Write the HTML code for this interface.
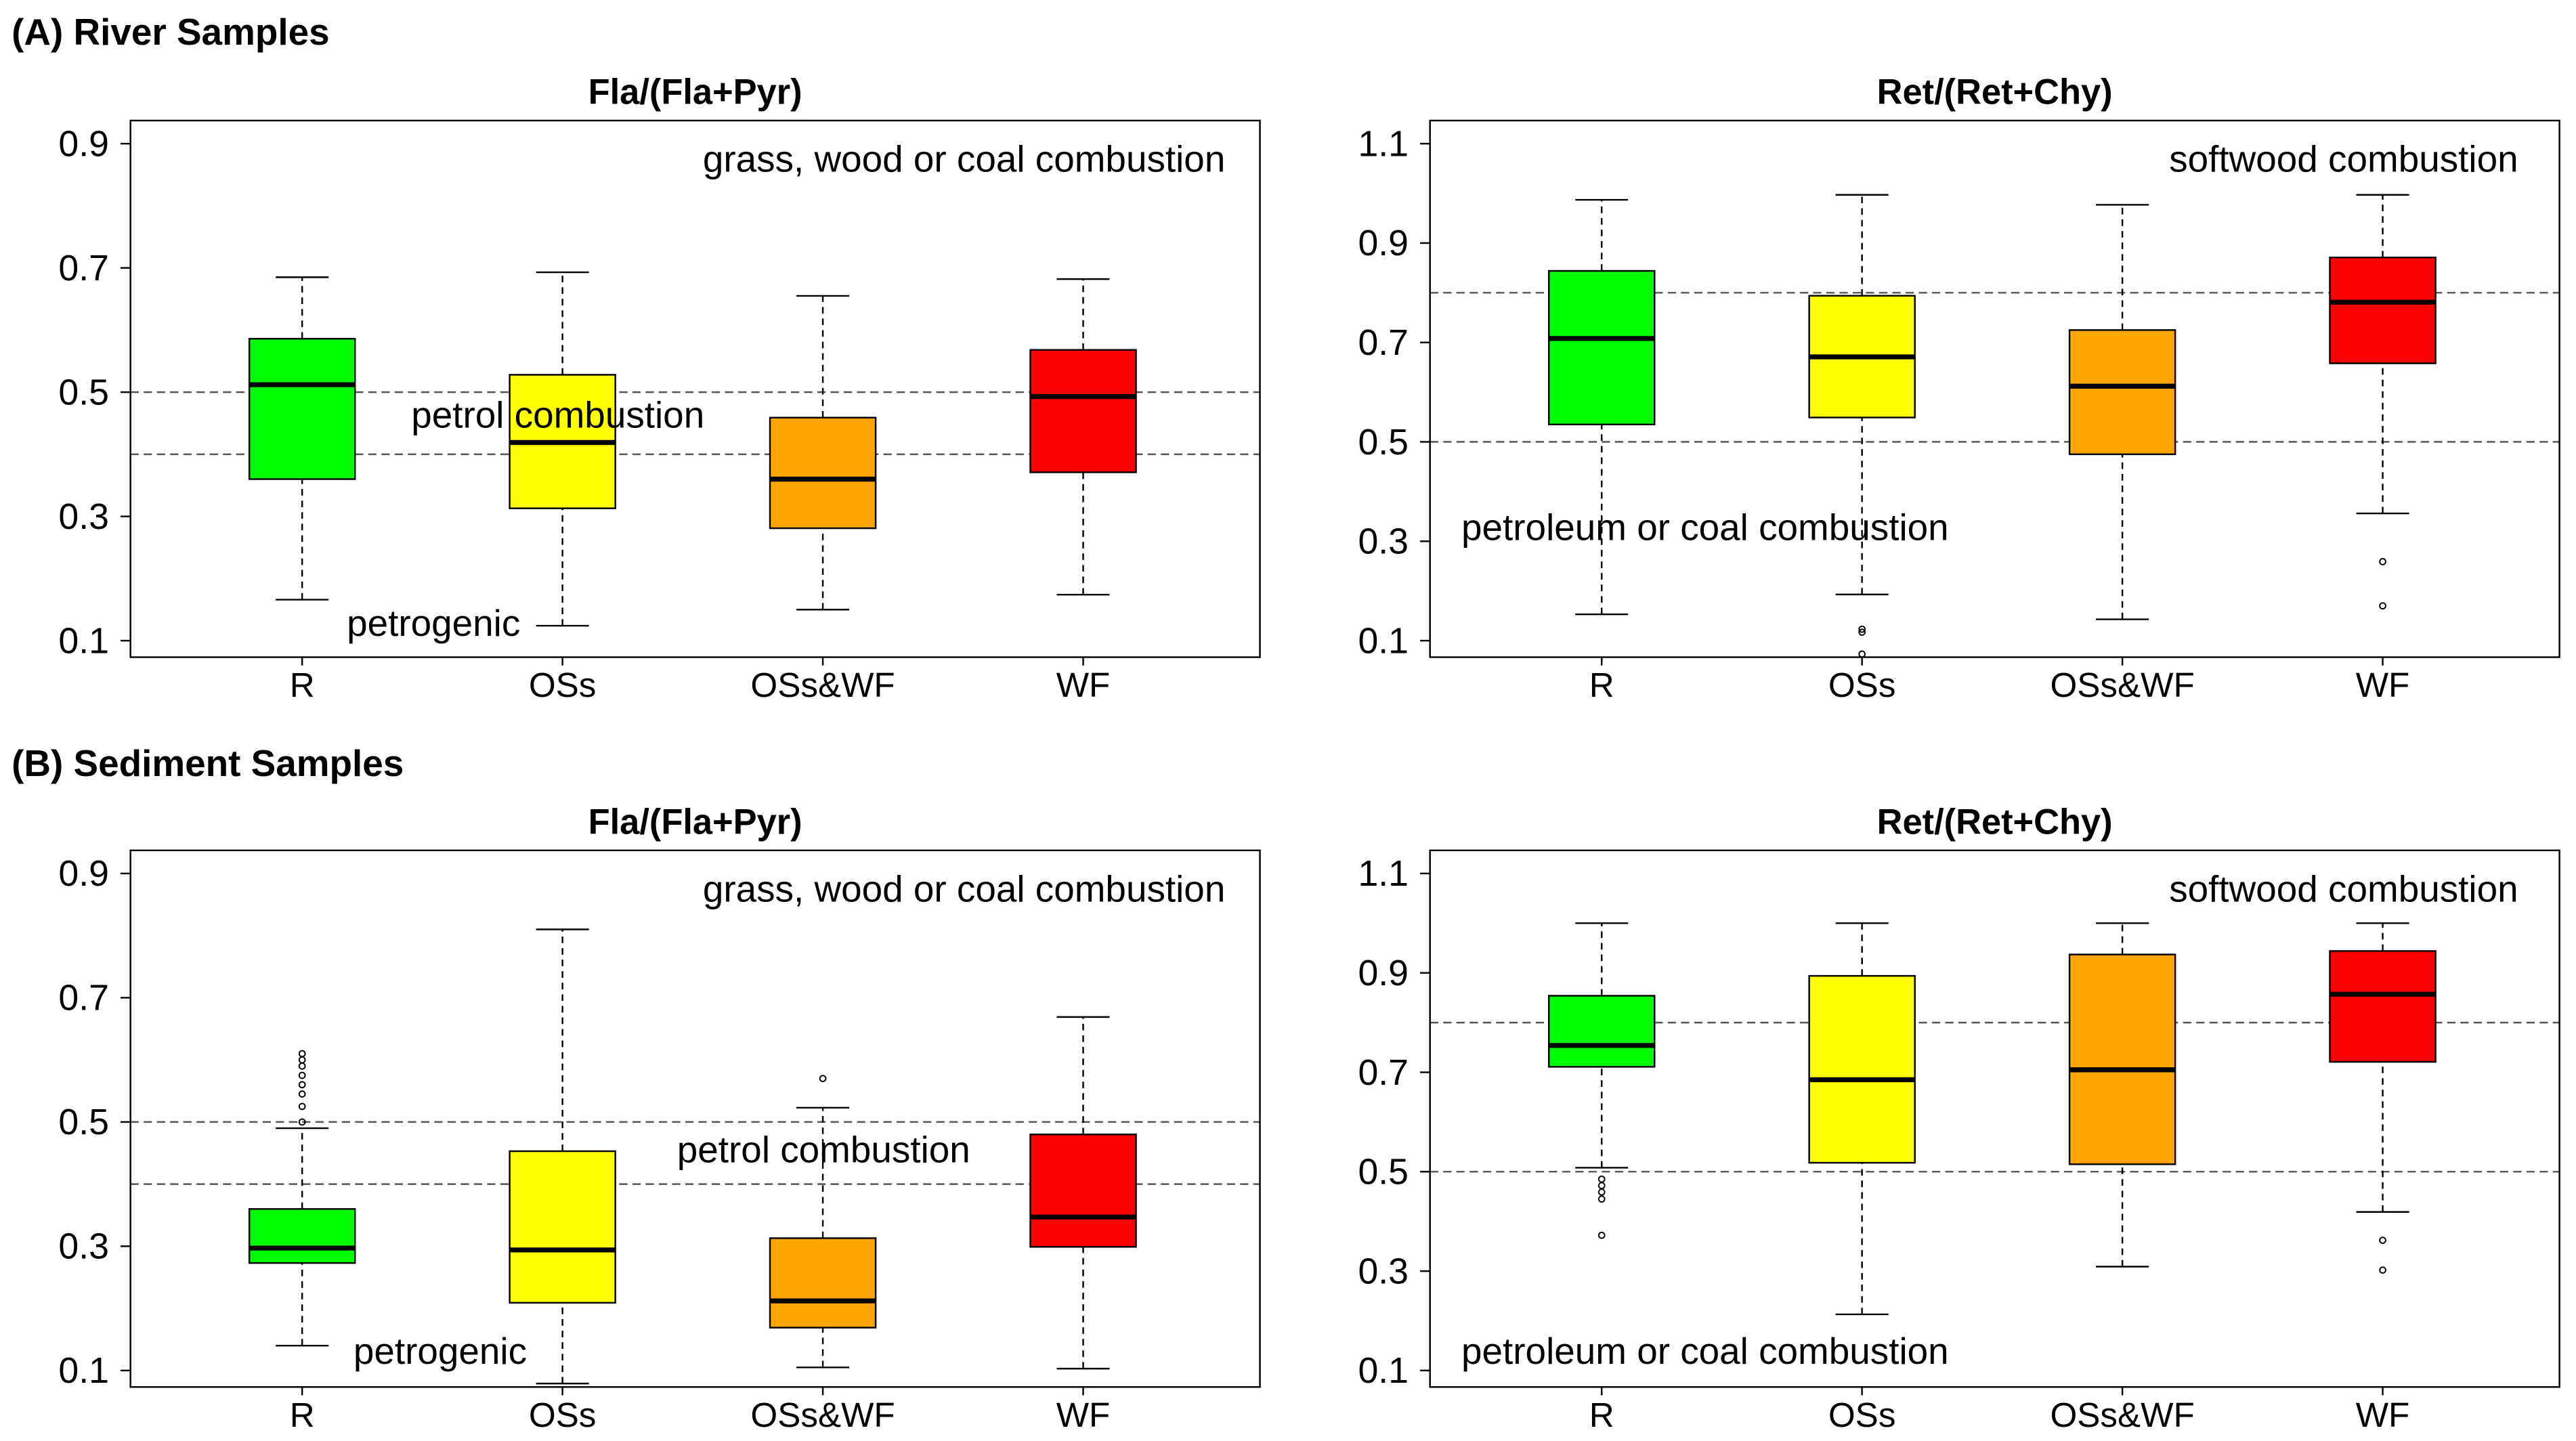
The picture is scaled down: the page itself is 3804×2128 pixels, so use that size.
<!DOCTYPE html>
<html><head><meta charset="utf-8"><style>html,body{margin:0;padding:0;background:#fff}svg{display:block}</style></head>
<body>
<svg id="fig" xmlns="http://www.w3.org/2000/svg" width="3804" height="2128" viewBox="0 0 1560 872.7" font-family="Liberation Sans, sans-serif">
<text x="7" y="27" font-size="22.5" font-weight="bold">(A) River Samples</text>
<text x="7" y="470" font-size="22.5" font-weight="bold">(B) Sediment Samples</text>
<g id="panels"></g>
</svg>
<script>
const categories = ["R","OSs","OSs&WF","WF"];
const colors = ["#00ff00","#ffff00","#ffa500","#ff0000"];
// [low whisker, Q1, median, Q3, high whisker]
const riverFla = [[0.166,0.36,0.512,0.586,0.685],[0.124,0.313,0.419,0.528,0.693],[0.15,0.281,0.36,0.459,0.655],[0.174,0.371,0.493,0.568,0.682]];
const riverFlaOut = [[],[],[],[]];
const riverRet = [[0.153,0.535,0.708,0.844,0.987],[0.193,0.549,0.671,0.794,0.997],[0.143,0.475,0.612,0.725,0.977],[0.356,0.658,0.781,0.871,0.997]];
const riverRetOut = [[],[0.123,0.117,0.073],[],[0.259,0.17]];
const sedFla = [[0.14,0.273,0.297,0.36,0.49],[0.079,0.209,0.294,0.453,0.81],[0.105,0.169,0.212,0.313,0.523],[0.103,0.299,0.347,0.48,0.669]];
const sedFlaOut = [[0.61,0.60,0.59,0.575,0.56,0.545,0.525,0.5],[],[0.57],[]];
const sedRet = [[0.508,0.711,0.754,0.854,1.0],[0.213,0.518,0.685,0.894,1.0],[0.309,0.515,0.705,0.937,1.0],[0.419,0.721,0.857,0.944,1.0]];
const sedRetOut = [[0.485,0.472,0.459,0.445,0.372],[],[],[0.362,0.302]];
const flaTicks = [0.1,0.3,0.5,0.7,0.9];
const retTicks = [0.1,0.3,0.5,0.7,0.9,1.1];
const flaRefs = [0.5,0.4];
const retRefs = [0.8,0.5];

const NS="http://www.w3.org/2000/svg";
const root=document.getElementById('panels');
function mk(tag,attrs,parent,text){const e=document.createElementNS(NS,tag);for(const k in attrs)e.setAttribute(k,attrs[k]);if(text!==undefined)e.textContent=text;parent.appendChild(e);return e;}

function panel(name,x0,x1,top,bottom,vmin,vmax,ymin,ymax,ticks,refs,stats,outs,title,labels){
  const g=mk('g',{},root);
  
  
  const y=v=>ymin-(v-vmin)*(ymin-ymax)/(vmax-vmin);
  const span=x1-x0;
  const xc=i=>x0+span*(0.152+i*0.2305);
  const t=mk('text',{x:(x0+x1)/2,y:top-10,'font-size':21.5,'font-weight':'bold','text-anchor':'middle'},g,title);
  
  
  refs.forEach(r=>{const l=mk('line',{x1:x0,x2:x1,y1:y(r),y2:y(r),stroke:'#555','stroke-width':1,'stroke-dasharray':'5,3'},g);
    
    });
  ticks.forEach(tv=>{mk('line',{x1:x0-6,x2:x0,y1:y(tv),y2:y(tv),stroke:'#000'},g);
    const tl=mk('text',{x:x0-13,y:y(tv)+7.5,'font-size':22,'text-anchor':'end'},g,tv.toFixed(1));
    
    });
  stats.forEach((s,i)=>{
    const c=xc(i),w=32,cw=16;
    const bg=mk('g',{},g);
    
    
    mk('line',{x1:c,x2:c,y1:y(s[0]),y2:y(s[1]),stroke:'#000','stroke-dasharray':'4,3'},bg);
    mk('line',{x1:c,x2:c,y1:y(s[3]),y2:y(s[4]),stroke:'#000','stroke-dasharray':'4,3'},bg);
    mk('line',{x1:c-cw,x2:c+cw,y1:y(s[0]),y2:y(s[0]),stroke:'#000'},bg);
    mk('line',{x1:c-cw,x2:c+cw,y1:y(s[4]),y2:y(s[4]),stroke:'#000'},bg);
    mk('rect',{x:c-w,y:y(s[3]),width:2*w,height:y(s[1])-y(s[3]),fill:colors[i],stroke:'#000','stroke-width':1},bg);
    mk('line',{x1:c-w,x2:c+w,y1:y(s[2]),y2:y(s[2]),stroke:'#000','stroke-width':3},bg);
    outs[i].forEach(o=>{const p=mk('circle',{cx:c,cy:y(o),r:1.8,fill:'none',stroke:'#000','stroke-width':0.8},bg);
      
      });
    mk('line',{x1:c,x2:c,y1:bottom,y2:bottom+5,stroke:'#000'},g);
    const xl=mk('text',{x:c,y:bottom+24,'font-size':21,'text-anchor':'middle'},g,categories[i]);
    
    
  });
  labels.forEach(L=>{const e=mk('text',{x:L[0],y:L[1],'font-size':22.5,'text-anchor':L[3]||'start'},g,L[2]);
    
    });
  const fr=mk('rect',{x:x0,y:top,width:x1-x0,height:bottom-top,fill:'none',stroke:'#000','stroke-width':1},g);
  
  
}
panel('river-fla-panel',79,763,73,398,0.1,0.9,388,87,flaTicks,flaRefs,riverFla,riverFlaOut,'Fla/(Fla+Pyr)',
  [[742,104,'grass, wood or coal combustion','end'],[249,259,'petrol combustion'],[210,385,'petrogenic']]);
panel('river-ret-panel',866,1550,73,398,0.1,1.1,388,87,retTicks,retRefs,riverRet,riverRetOut,'Ret/(Ret+Chy)',
  [[1525,104,'softwood combustion','end'],[885,327,'petroleum or coal combustion']]);
panel('sediment-fla-panel',79,763,515,840,0.1,0.9,830,529,flaTicks,flaRefs,sedFla,sedFlaOut,'Fla/(Fla+Pyr)',
  [[742,546,'grass, wood or coal combustion','end'],[410,704,'petrol combustion'],[214,826,'petrogenic']]);
panel('sediment-ret-panel',866,1550,515,840,0.1,1.1,830,529,retTicks,retRefs,sedRet,sedRetOut,'Ret/(Ret+Chy)',
  [[1525,546,'softwood combustion','end'],[885,826,'petroleum or coal combustion']]);
</script>
</body></html>
